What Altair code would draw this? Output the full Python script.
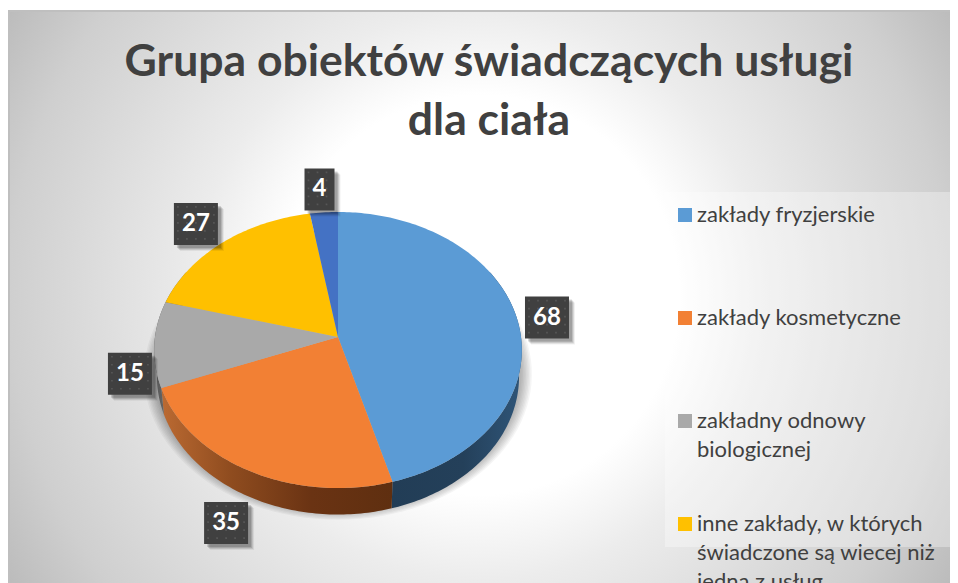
import math
import altair as alt
import pandas as pd

categories = ["zakłady fryzjerskie", "zakłady kosmetyczne", "zakładny odnowy biologicznej",
              "inne zakłady, w których świadczone są wiecej niż jedna z usług", "pozostałe"]
values = [68, 35, 15, 27, 4]
legend_lines = [["zakłady fryzjerskie"], ["zakłady kosmetyczne"], ["zakładny odnowy", "biologicznej"],
                ["inne zakłady, w których", "świadczone są wiecej niż", "jedna z usług"]]
colors = ["#5b9bd5", "#f28034", "#a9a9a9", "#ffc000", "#4472c4"]
title_lines = ["Grupa obiektów świadczących usługi", "dla ciała"]
label_shift_x = [30, -22.5, -24.4, -27, -4.4]
label_shift_y = [-1, 52.5, 29.5, -18.4, -23]

W, H = 942, 575
CX, CY, RX, RY, K, DEPTH = 330, 329, 183, 136.8, 0.0942, 26.5


def project(t, f=1.0, fx=1.0):
    a = math.radians(t)
    d = 1 + K * math.cos(a)
    return CX + RX * f * fx * math.sin(a) / d, CY - RY * f * math.cos(a) / d


def sweep(a, b, step=1.0):
    n = max(2, int(abs(b - a) / step) + 1)
    return [a + (b - a) * i / (n - 1) for i in range(n)]


total = sum(values)
edges = [0.0]
for v in values:
    edges.append(edges[-1] + 360.0 * v / total)

xs = alt.Scale(domain=[0, W], range=[0, W])
ys = alt.Scale(domain=[0, H], range=[0, H])
X = alt.X("x:Q", scale=xs, axis=None)
Y = alt.Y("y:Q", scale=ys, axis=None)
ONE = pd.DataFrame({"a": [0]})


def poly(points, **mark):
    df = pd.DataFrame({"x": [p[0] for p in points], "y": [p[1] for p in points], "o": range(len(points))})
    return alt.Chart(df).mark_line(interpolate="linear", strokeWidth=0, strokeOpacity=0, **mark).encode(
        x=X, y=Y, order=alt.Order("o:Q"))


def wall(a, b):
    top = [project(t) for t in sweep(a, b)]
    bot = [project(t, fx=0.985) for t in sweep(b, a)]
    return top + [(x, y + DEPTH) for x, y in bot]


def grad(stops):
    return alt.LinearGradient(gradient="linear", x1=0, x2=1, y1=0, y2=0,
                              stops=[alt.GradientStop(offset=o, color=c) for o, c in stops])


# square rect so that the radial gradient stays circular; its overflow is clipped by the page
bg = alt.Chart(ONE).mark_rect(
    fill=alt.RadialGradient(gradient="radial", x1=0.5, y1=0.5, x2=0.5, y2=0.5, r1=0, r2=0.6,
                            stops=[alt.GradientStop(offset=0, color="#ffffff"),
                                   alt.GradientStop(offset=0.35, color="#ffffff"),
                                   alt.GradientStop(offset=0.5, color="#ececec"),
                                   alt.GradientStop(offset=0.825, color="#cfcfcf"),
                                   alt.GradientStop(offset=0.965, color="#bcbcbc"),
                                   alt.GradientStop(offset=1, color="#b6b6b6")])
).encode(x=alt.value(-3), x2=alt.value(947), y=alt.value(-188), y2=alt.value(762))
top_white = alt.Chart(ONE).mark_rect(color="#ffffff").encode(
    x=alt.value(0), x2=alt.value(W), y=alt.value(0), y2=alt.value(2))
top_line = alt.Chart(ONE).mark_rect(color="#bfbfbf").encode(
    x=alt.value(0), x2=alt.value(W), y=alt.value(2), y2=alt.value(4))
left_line = alt.Chart(ONE).mark_rect(color="#bfbfbf").encode(
    x=alt.value(0), x2=alt.value(2), y=alt.value(2), y2=alt.value(H))

layers = [bg, top_white, top_line, left_line]

# soft shadow under the pie
for i in range(8):
    f = 1.055 - 0.008 * i
    pts = [project(t, f=f) for t in sweep(0, 360, 3)]
    pts = [(x, min(y + DEPTH - 3, 517)) for x, y in pts]
    layers.append(poly(pts, fill="#000000", fillOpacity=0.04))

# side wall
layers.append(poly(wall(60, edges[1]), fill=grad([(0, "#223d56"), (0.55, "#24405a"), (1, "#2f5578")])))
layers.append(poly(wall(edges[1], edges[2]), fill=grad([(0, "#bb6a32"), (0.3, "#8f4c1f"), (0.65, "#6a3313"), (1, "#5f2f10")])))
layers.append(poly(wall(edges[2], 300), fill=grad([(0, "#555555"), (1, "#8c8c8c")])))

# top surface
for i, c in enumerate(colors):
    pts = [(CX, CY)] + [project(t) for t in sweep(edges[i], edges[i + 1])] + [(CX, CY)]
    layers.append(poly(pts, fill=c))

# data labels
rows = []
for i, v in enumerate(values):
    mid = (edges[i] + edges[i + 1]) / 2
    rx, ry = project(mid)
    cx, cy = rx + label_shift_x[i], ry + label_shift_y[i]
    w = 16 + 14 * len(str(v))
    rows.append({"x": cx - w / 2, "x2": cx + w / 2, "y": cy - 21, "y2": cy + 21, "cx": cx, "cy": cy, "t": str(v)})
lab = pd.DataFrame(rows)
for s, op in [(6, 0.06), (5, 0.1), (4, 0.12), (3, 0.15)]:
    shadow = lab.assign(x=lab.x + s, x2=lab.x2 + s, y=lab.y + s, y2=lab.y2 + s)
    layers.append(alt.Chart(shadow).mark_rect(color="#000000", opacity=op).encode(
        x=X, x2="x2:Q", y=Y, y2="y2:Q"))
layers.append(alt.Chart(lab).mark_rect(color="#404040").encode(x=X, x2="x2:Q", y=Y, y2="y2:Q"))
dots = []
for r in rows:
    yy = r["y"] + 4
    while yy < r["y2"] - 2:
        xx = r["x"] + 4
        while xx < r["x2"] - 2:
            dots.append({"x": xx, "y": yy})
            xx += 9
        yy += 8
layers.append(alt.Chart(pd.DataFrame(dots)).mark_square(size=3, color="#565656", opacity=1).encode(x=X, y=Y))
layers.append(alt.Chart(lab).mark_text(font="Lato", fontWeight="bold", fontSize=24, color="#ffffff",
                                       baseline="middle", align="center").encode(
    x=alt.X("cx:Q", scale=xs, axis=None), y=alt.Y("cy:Q", scale=ys, axis=None), text="t:N"))

# legend panel
layers.append(alt.Chart(ONE).mark_rect(color="#ffffff", opacity=0.32).encode(
    x=alt.value(657), x2=alt.value(946), y=alt.value(184), y2=alt.value(539)))

leg = pd.DataFrame({"name": [" ".join(l) for l in legend_lines],
                    "lines": legend_lines,
                    "color": colors[:4]})
order_names = leg["name"].tolist()
ly = alt.Y("name:N", sort=order_names, axis=None,
           scale=alt.Scale(type="point", domain=order_names, range=[207, 516], padding=0))
layers.append(alt.Chart(leg).mark_square(size=196, opacity=1).encode(
    x=alt.value(677), y=ly, fill=alt.Fill("color:N", scale=None), stroke=alt.value(None)))
layers.append(alt.Chart(leg).mark_text(font="Lato", fontSize=22, color="#404040", align="left",
                                       baseline="alphabetic", dy=7, lineHeight=29).encode(
    x=alt.value(689), y=ly, text="lines"))

chart = alt.layer(*layers).resolve_scale(y="independent").properties(
    width=W, height=H, padding=0, autosize=alt.AutoSizeParams(type="none"),
    title=alt.TitleParams(text=title_lines, anchor="middle", font="Lato", fontWeight="bold", fontSize=44.5,
                          color="#404040", lineHeight=59, baseline="alphabetic", dx=10, dy=290, offset=-69)
).configure_view(stroke=None)

chart.save("out.html", embed_options={"renderer": "svg", "actions": False})
